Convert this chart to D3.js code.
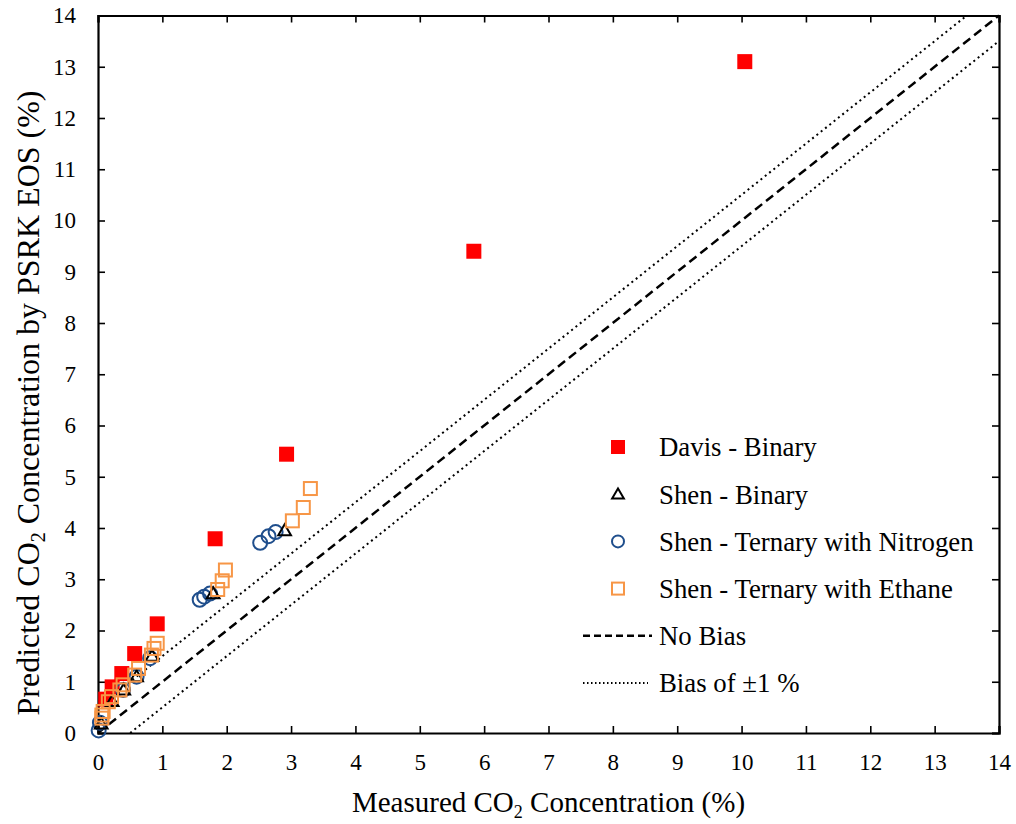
<!DOCTYPE html>
<html>
<head>
<meta charset="utf-8">
<script src="https://cdn.jsdelivr.net/npm/d3@7"></script>
<style>
  body { margin: 0; background: #fff; }
  text { font-family: "Liberation Serif", "Times New Roman", serif; fill: #000; }
</style>
</head>
<body>
<svg id="chart"></svg>
<script>
let w = 1016;
let h = 824;

// data: [measured, predicted]
const davisBinary = [[10.05, 13.10], [5.84, 9.40], [2.93, 5.44], [1.82, 3.79], [0.92, 2.13],
  [0.57, 1.55], [0.37, 1.16], [0.22, 0.90], [0.12, 0.66]];
const shenBinary = [[2.90, 3.95], [1.79, 2.72], [0.84, 1.50], [0.60, 1.10], [0.40, 0.84],
  [0.22, 0.62], [0.05, 0.18]];
const shenNitrogen = [[2.52, 3.71], [2.65, 3.84], [2.76, 3.92], [1.58, 2.60], [1.65, 2.66],
  [1.74, 2.72], [0.81, 1.46], [0.60, 1.10], [0.39, 0.84], [0.03, 0.20], [0.01, 0.05]];
const shenEthane = [[3.30, 4.77], [3.19, 4.40], [3.02, 4.14], [1.98, 3.18], [1.93, 2.97],
  [1.86, 2.80], [0.92, 1.75], [0.87, 1.65], [0.83, 1.52], [0.63, 1.26], [0.57, 1.13],
  [0.39, 0.94], [0.34, 0.84], [0.21, 0.71], [0.16, 0.61], [0.08, 0.42], [0.06, 0.35], [0.06, 0.29]];
const ticks = d3.range(0, 15);
const biasOffset = 0.5;

const legendLabels = ['Davis - Binary', 'Shen - Binary', 'Shen - Ternary with Nitrogen',
  'Shen - Ternary with Ethane', 'No Bias', 'Bias of \u00b11 %'];

const svg = d3.select('#chart')
  .attr('width', w)
  .attr('height', h)

const x = d3.scaleLinear().domain([0, 14]).range([98, 999]);
const y = d3.scaleLinear().domain([0, 14]).range([733, 15.5]);

// reference lines
const lines = svg.append('g')
const line = d3.line().x(d => x(d[0])).y(d => y(d[1]))
lines.append('path')
  .attr('d', line([[0, 0], [14, 14]]))
  .attr('stroke', 'black').attr('stroke-width', 2.5)
  .attr('stroke-dasharray', '9,5').attr('fill', 'none')
lines.append('path')
  .attr('d', line([[0, biasOffset], [14 - biasOffset, 14]]))
  .attr('stroke', 'black').attr('stroke-width', 2)
  .attr('stroke-dasharray', '2,3.5').attr('fill', 'none')
lines.append('path')
  .attr('d', line([[biasOffset, 0], [14, 14 - biasOffset]]))
  .attr('stroke', 'black').attr('stroke-width', 2)
  .attr('stroke-dasharray', '2,3.5').attr('fill', 'none')

// axes
const fs = '23px';
const axBottom = svg.append('g')
  .attr('transform', `translate(0,${y(0)})`)
  .call(d3.axisBottom(x).tickValues(ticks).tickSize(-7).tickPadding(21))
const axLeft = svg.append('g')
  .attr('transform', `translate(${x(0)},0)`)
  .call(d3.axisLeft(y).tickValues(ticks).tickSize(-7).tickPadding(22))
const axTop = svg.append('g')
  .attr('transform', `translate(0,${y(14)})`)
  .call(d3.axisTop(x).tickValues(ticks).tickSize(-7).tickFormat(''))
const axRight = svg.append('g')
  .attr('transform', `translate(${x(14)},0)`)
  .call(d3.axisRight(y).tickValues(ticks).tickSize(-7).tickFormat(''))

;[axBottom, axLeft, axTop, axRight].forEach(g => {
  g.select('.domain').attr('stroke-width', 2.2).attr('stroke', 'black')
  g.selectAll('.tick line').attr('stroke-width', 1.6).attr('stroke', 'black')
  g.selectAll('.tick text').style('font-size', fs).attr('font-family', null)
})

// points (davis at the back, ethane on top)
const pts = svg.append('g')
const sq = 15, osq = 13;

pts.selectAll('.davis')
  .data(davisBinary)
  .enter()
  .append('rect')
  .attr('x', d => x(d[0]) - sq / 2)
  .attr('y', d => y(d[1]) - sq / 2)
  .attr('width', sq).attr('height', sq)
  .attr('fill', '#ff0000')

pts.selectAll('.nitrogen')
  .data(shenNitrogen)
  .enter()
  .append('circle')
  .attr('cx', d => x(d[0]))
  .attr('cy', d => y(d[1]))
  .attr('r', 7)
  .attr('fill', 'none').attr('stroke', '#1f4e8c').attr('stroke-width', 2)

const tri = d3.symbol().type(d3.symbolTriangle).size(70)
pts.selectAll('.shenbin')
  .data(shenBinary)
  .enter()
  .append('path')
  .attr('d', tri)
  .attr('transform', d => `translate(${x(d[0])},${y(d[1]) + 1})`)
  .attr('fill', 'none').attr('stroke', 'black').attr('stroke-width', 2)

pts.selectAll('.ethane')
  .data(shenEthane)
  .enter()
  .append('rect')
  .attr('x', d => x(d[0]) - osq / 2)
  .attr('y', d => y(d[1]) - osq / 2)
  .attr('width', osq).attr('height', osq)
  .attr('fill', 'none').attr('stroke', '#f79646').attr('stroke-width', 2)

// legend
const lg = svg.append('g')
const rowY = d3.scalePoint().domain(legendLabels).range([447, 683])
const mx = 618, tx = 659;
lg.append('rect').attr('x', mx - 7).attr('y', rowY(legendLabels[0]) - 7)
  .attr('width', 14).attr('height', 14).attr('fill', '#ff0000')
lg.append('path').attr('d', d3.symbol().type(d3.symbolTriangle).size(60))
  .attr('transform', `translate(${mx},${rowY(legendLabels[1]) + 1})`)
  .attr('fill', 'none').attr('stroke', 'black').attr('stroke-width', 2)
lg.append('circle').attr('cx', mx).attr('cy', rowY(legendLabels[2])).attr('r', 6)
  .attr('fill', 'none').attr('stroke', '#1f4e8c').attr('stroke-width', 2)
lg.append('rect').attr('x', mx - 6).attr('y', rowY(legendLabels[3]) - 6)
  .attr('width', 12).attr('height', 12)
  .attr('fill', 'none').attr('stroke', '#f79646').attr('stroke-width', 2)
lg.append('line').attr('x1', 583).attr('x2', 652)
  .attr('y1', rowY(legendLabels[4])).attr('y2', rowY(legendLabels[4]))
  .attr('stroke', 'black').attr('stroke-width', 2.5).attr('stroke-dasharray', '7,4')
lg.append('line').attr('x1', 583).attr('x2', 648)
  .attr('y1', rowY(legendLabels[5])).attr('y2', rowY(legendLabels[5]))
  .attr('stroke', 'black').attr('stroke-width', 2).attr('stroke-dasharray', '1.5,2.5')

lg.selectAll('text')
  .data(legendLabels)
  .enter()
  .append('text')
  .attr('x', tx)
  .attr('y', d => rowY(d))
  .attr('dy', '0.35em')
  .style('font-size', '26.8px')
  .text(d => d)

// axis titles
const xt = svg.append('text')
  .attr('x', (x(0) + x(14)) / 2)
  .attr('y', 812)
  .attr('text-anchor', 'middle')
  .style('font-size', '29px')
xt.append('tspan').text('Measured CO')
xt.append('tspan').text('2').style('font-size', '18px').attr('dy', 6)
xt.append('tspan').text(' Concentration (%)').attr('dy', -6)

const yt = svg.append('text')
  .attr('transform', 'translate(39,403) rotate(-90)')
  .attr('text-anchor', 'middle')
  .style('font-size', '32px')
yt.append('tspan').text('Predicted CO')
yt.append('tspan').text('2').style('font-size', '20px').attr('dy', 6)
yt.append('tspan').text(' Concentration by PSRK EOS (%)').attr('dy', -6)
</script>
</body>
</html>
